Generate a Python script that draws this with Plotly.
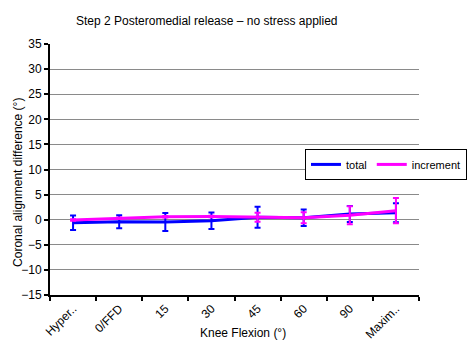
import plotly.graph_objects as go

categories = ["Hyper..", "0/FFD", "15", "30", "45", "60", "90", "Maxim.."]
total = [-0.6, -0.4, -0.45, -0.2, 0.5, 0.4, 1.15, 1.4]
total_err = [1.45, 1.3, 1.8, 1.65, 2.1, 1.65, 1.6, 1.9]
increment = [-0.05, 0.3, 0.6, 0.65, 0.5, 0.4, 0.9, 1.8]
increment_err = [0.15, 0.15, 0.15, 0.15, 0.9, 1.1, 1.8, 2.5]

FONT = "Liberation Sans, Arial, sans-serif"

fig = go.Figure()
fig.add_trace(go.Scatter(
    x=categories, y=total, name="total", mode="lines",
    line=dict(color="#0000FF", width=3),
    error_y=dict(type="data", array=total_err, visible=True,
                 color="#0000FF", thickness=2, width=3),
))
fig.add_trace(go.Scatter(
    x=categories, y=increment, name="increment", mode="lines",
    line=dict(color="#FF00FF", width=3),
    error_y=dict(type="data", array=increment_err, visible=True,
                 color="#FF00FF", thickness=2, width=3),
))

fig.update_layout(
    width=473, height=351,
    margin=dict(l=50, r=54, t=44, b=56, autoexpand=False),
    paper_bgcolor="white", plot_bgcolor="white",
    font=dict(family=FONT, size=11, color="#000000"),
    showlegend=True,
    legend=dict(
        orientation="h", x=1.13, y=0.582, xanchor="right", yanchor="top",
        bordercolor="#000000", borderwidth=1, bgcolor="white",
        font=dict(size=11), itemwidth=30, tracegroupgap=0,
    ),
    xaxis=dict(
        type="category", range=[-0.5, 7.5],
        showline=True, linecolor="#000000", linewidth=2,
        ticks="outside", tickson="boundaries", ticklen=4, tickwidth=2,
        tickcolor="#000000", tickangle=-45, showgrid=False,
        tickfont=dict(size=12), automargin=False,
    ),
    yaxis=dict(
        range=[-15, 35], dtick=5, tick0=0,
        showline=True, linecolor="#000000", linewidth=2,
        ticks="outside", ticklen=4, tickwidth=2, tickcolor="#000000",
        showgrid=True, gridcolor="#8a8a8a", gridwidth=1,
        zeroline=False, tickfont=dict(size=12), automargin=False,
    ),
    annotations=[
        dict(text="Step 2 Posteromedial release \u2013 no stress applied",
             xref="paper", yref="paper", x=0.065, y=1.092,
             xanchor="left", yanchor="middle", showarrow=False,
             font=dict(size=12)),
        dict(text="Coronal alignment difference (\u00b0)",
             xref="paper", yref="paper", x=-0.087, y=0.45,
             xanchor="center", yanchor="middle", showarrow=False,
             textangle=-90, font=dict(size=12)),
        dict(text="Knee Flexion (\u00b0)",
             xref="paper", yref="paper", x=0.523, y=-0.151,
             xanchor="center", yanchor="middle", showarrow=False,
             font=dict(size=12)),
    ],
)

fig.write_html("out.html")
